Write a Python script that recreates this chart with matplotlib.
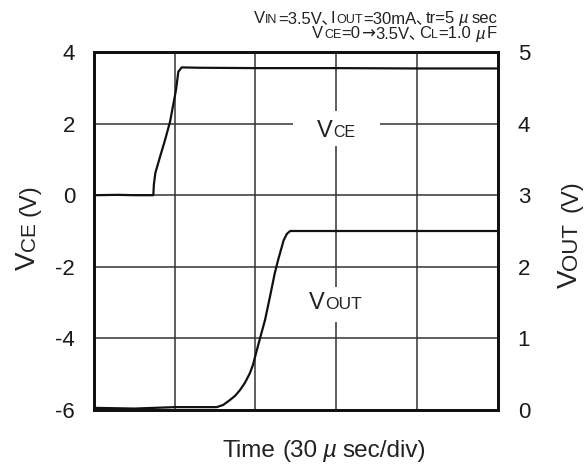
import matplotlib
matplotlib.use('Agg')
import matplotlib.pyplot as plt
from matplotlib.patches import Rectangle

FONT = ['Liberation Sans', 'DejaVu Sans', 'Noto Sans CJK JP']
AFONT = ['DejaVu Sans', 'Liberation Sans']
plt.rcParams['font.family'] = FONT
plt.rcParams['axes.unicode_minus'] = False

HBIG, HSMALL = 12, 9

# ---------------- data (time in divisions of 30 usec) ----------------
time_divs = [0, 1, 2, 3, 4, 5]
vce_ticks = [-6, -4, -2, 0, 2, 4]
vout_ticks = [0, 1, 2, 3, 4, 5]

t_vce = [0, 0.3, 0.5, 0.735, 0.742, 0.76, 0.818, 0.88, 0.942, 1.016, 1.045,
         1.087, 1.3, 2.0, 3.0, 4.0, 5.0]
vce = [0.0, 0.01, 0.0, 0.0, 0.30, 0.62, 1.07, 1.54, 2.05, 2.94, 3.45,
       3.57, 3.56, 3.55, 3.55, 3.54, 3.54]

t_out = [0, 0.5, 1.0, 1.52, 1.6, 1.685, 1.75, 1.81, 1.87, 1.93, 1.97, 2.007, 2.057,
         2.12, 2.18, 2.24, 2.28, 2.32, 2.35, 2.39, 2.43, 3.0, 4.0, 5.0]
vout = [0.03, 0.02, 0.04, 0.04, 0.07, 0.14, 0.20, 0.28, 0.38, 0.51, 0.63, 0.79, 1.0,
        1.26, 1.58, 1.91, 2.09, 2.25, 2.37, 2.46, 2.50, 2.50, 2.50, 2.50]

# ---------------- figure ----------------
W, H = 584, 467
fig = plt.figure(figsize=(W / 100, H / 100), dpi=100)
L, R, T, B = 94, 497.5, 52, 410
ax = fig.add_axes([L / W, 1 - B / H, (R - L) / W, (B - T) / H])
ax2 = ax.twinx()

ax.set_xlim(0, 5)
ax.set_ylim(-6, 4)
ax2.set_ylim(0, 5)
ax.set_xticks(time_divs)
ax.set_xticklabels([])
ax.set_yticks(vce_ticks)
ax2.set_yticks(vout_ticks)
ax.grid(True, color='#333333', lw=1.1, zorder=1.5)
ax.tick_params(axis='both', length=0, labelsize=16, pad=13.5, labelcolor='#1a1a1a')
ax2.tick_params(axis='y', length=0, labelsize=16, pad=14.5, labelcolor='#1a1a1a')
for a in (ax, ax2):
    for sp in a.spines.values():
        sp.set_linewidth(2.0)
        sp.set_color('#111111')

# white gaps behind in-plot labels
ax.add_patch(Rectangle((0.4924, 0.7374), 0.2164, 0.0986, transform=ax.transAxes,
                       facecolor='white', edgecolor='none', zorder=1.8))
ax.add_patch(Rectangle((0.477, 0.2466), 0.241, 0.0978, transform=ax.transAxes,
                       facecolor='white', edgecolor='none', zorder=1.8))

ax.plot(t_vce, vce, color='#111111', lw=1.6, zorder=3)
ax2.plot(t_out, vout, color='#111111', lw=1.6, zorder=3)


def rich(pieces, x, y, align=0.0, rotation=0, color='#222222'):
    """pieces: (text, size, style, gap_before_px[, family]). x,y pixels from top-left, y = baseline."""
    renderer = fig.canvas.get_renderer()
    objs, widths, gaps = [], [], []
    for p in pieces:
        s, fs, st, gap = p[:4]
        fam = p[4] if len(p) > 4 else FONT
        t = fig.text(0, 0, s, fontsize=fs, fontstyle=st, family=fam, color=color,
                     ha='left', va='baseline', rotation_mode='anchor', zorder=10)
        objs.append(t)
        widths.append(t.get_window_extent(renderer).width)
        gaps.append(gap)
    total = sum(widths) + sum(gaps)
    cum = -total * align
    for t, w, g in zip(objs, widths, gaps):
        cum += g
        if rotation == 0:
            t.set_position(((x + cum) / W, 1 - y / H))
        else:
            t.set_position((x / W, 1 - (y - cum) / H))
            t.set_rotation(90)
        cum += w
    return objs


N = 'normal'
I = 'italic'
# header
rich([('V', HBIG, N, 0), ('IN', HSMALL, N, 0.5), ('=3.5V､', HBIG, N, 0.5), ('I', HBIG, N, 0.5),
      ('OUT', HSMALL, N, 0.5), ('=30mA､', HBIG, N, 0.5), ('tr=5', HBIG, N, 0.5),
      ('µ', HBIG, I, 3.5), ('sec', HBIG, N, 3.5)],
     497, 23, align=1.0)
rich([('V', HBIG, N, 0), ('CE', HSMALL, N, 0.5), ('=0', HBIG, N, 0.5), ('→', HBIG, N, 0.5, AFONT),
      ('3.5V､', HBIG, N, 0.5), ('C', HBIG, N, 0.5),
      ('L', HSMALL, N, 0.5), ('=1.0', HBIG, N, 0.5), ('µ', HBIG, I, 3.5), ('F', HBIG, N, 2.5)],
     497, 38.5, align=1.0)

# in-plot labels
rich([('V', 17, N, 0), ('CE', 11.5, N, 0.5)], 336, 137.3, align=0.5)
rich([('V', 17, N, 0), ('OUT', 12.5, N, 0.5)], 335, 309.3, align=0.5)

# axis labels
rich([('V', 20, N, 0), ('CE', 15, N, 0.5), ('(V)', 17, N, 6)], 35, 270, rotation=90)
rich([('V', 20, N, 0), ('OUT', 16, N, 0.5), ('(V)', 17, N, 10)], 577, 288.5, rotation=90)
rich([('Time', 17.5, N, 0), ('(30', 17.5, N, 7), ('µ', 17.5, I, 5), ('sec/div)', 17.5, N, 6)],
     324, 456.7, align=0.5)

fig.savefig('out.png', dpi=100)
